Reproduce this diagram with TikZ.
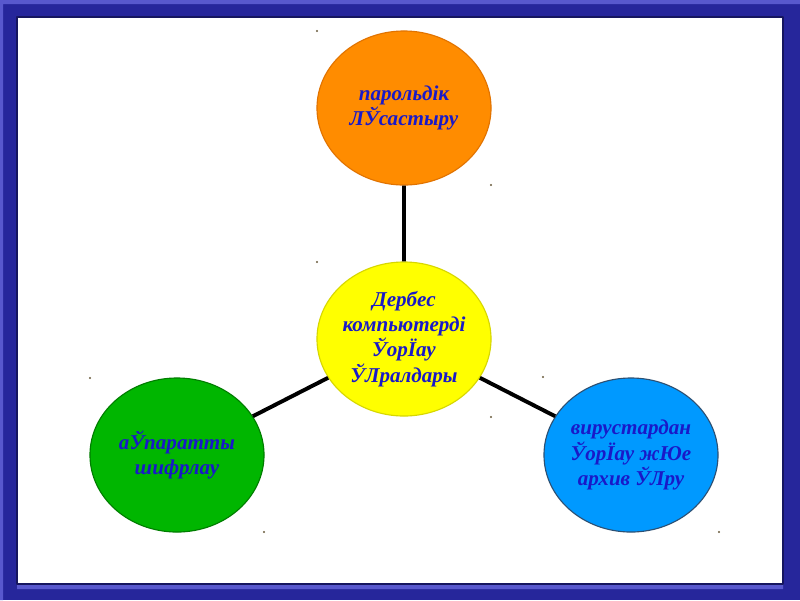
\documentclass[tikz,border=0pt]{standalone}
\usepackage{fontspec}
\setmainfont{Liberation Serif}
\usetikzlibrary{shapes.geometric}
\definecolor{frameblue}{RGB}{38,38,155}
\definecolor{framelight}{RGB}{88,88,205}
\definecolor{frameshadow}{RGB}{22,22,95}
\definecolor{txtblue}{RGB}{25,25,200}
\definecolor{bOrange}{RGB}{255,140,0}
\definecolor{bOrangeEdge}{RGB}{225,115,0}
\definecolor{bYellow}{RGB}{255,255,0}
\definecolor{bYellowEdge}{RGB}{215,215,0}
\definecolor{bGreen}{RGB}{0,182,0}
\definecolor{bGreenEdge}{RGB}{0,125,0}
\definecolor{bBlue}{RGB}{0,153,255}
\definecolor{bBlueEdge}{RGB}{45,80,115}
\definecolor{dotcol}{RGB}{105,90,60}
\begin{document}
\begin{tikzpicture}[x=0.025cm, y=-0.025cm, line join=round, line cap=round,
	bubble/.style={ellipse, draw, line width=0.8pt, minimum width=4.35cm, minimum height=3.85cm,
		inner sep=0pt, align=center, text=txtblue, font=\bfseries\itshape\fontsize{15}{18}\selectfont},
	link/.style={line width=2.8pt, line cap=butt}]
	% frame
	\fill[frameblue] (0,0) rectangle (800,600);
	\fill[framelight] (0,0) rectangle (800,4) (0,0) rectangle (3,600) (17,584) rectangle (783,589);
	\draw[fill=white, draw=frameshadow, line width=1.2pt] (17,17) rectangle (783,584);
	% bubbles
	\node[bubble, fill=bYellow, draw=bYellowEdge] (tools) at (404,339) {Дербес\\компьютерді\\ЎорЇау\\ЎЛралдары};
	\node[bubble, fill=bOrange, draw=bOrangeEdge] (pass) at (404,108) {парольдік\\ЛЎсастыру};
	\node[bubble, fill=bGreen, draw=bGreenEdge] (crypt) at (177,455) {аЎпаратты\\шифрлау};
	\node[bubble, fill=bBlue, draw=bBlueEdge] (virus) at (631,455) {вирустардан\\ЎорЇау жЮе\\архив ЎЛру};
	\draw[link] (tools) -- (pass) (tools) -- (crypt) (tools) -- (virus);
	% corner marks
	\fill[dotcol] (317,31) circle (1.2) (491,185) circle (1.2)
	(317,262) circle (1.2) (491,417) circle (1.2)
	(90,378) circle (1.2) (264,532) circle (1.2)
	(543,377) circle (1.2) (719,532) circle (1.2);
\end{tikzpicture}
\end{document}
